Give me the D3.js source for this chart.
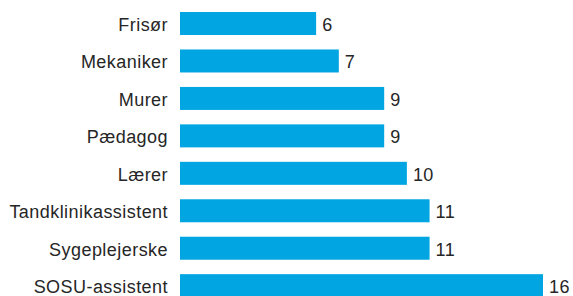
<!DOCTYPE html>
<html>
<head>
<meta charset="utf-8">
<script src="https://cdn.jsdelivr.net/npm/d3@7"></script>
<style>
  body { margin: 0; background: #fff; }
  svg text { font-family: "Liberation Sans", Arial, Helvetica, sans-serif; font-size: 18px; fill: #262626; letter-spacing: 0.45px; }
</style>
</head>
<body>
<svg id="chart" width="573" height="296"></svg>
<script>
// values
const categories = ['Frisør', 'Mekaniker', 'Murer', 'Pædagog', 'Lærer', 'Tandklinikassistent', 'Sygeplejerske', 'SOSU-assistent'];
const values = [6, 7, 9, 9, 10, 11, 11, 16];

const width = 573;
const height = 296;
const x0 = 180;

const svg = d3.select('#chart');

const xScale = d3.scaleLinear()
  .domain([0, 16])
  .range([x0, 543]);

const yScale = d3.scaleBand()
  .domain(categories)
  .range([4.8, 304.4])
  .paddingInner(0.386)
  .paddingOuter(0.193);

const rows = svg.selectAll('g.row')
  .data(categories.map((c, i) => ({ cat: c, val: values[i] })))
  .enter()
  .append('g')
  .attr('class', 'row');

rows.append('rect')
  .attr('x', xScale(0))
  .attr('y', d => yScale(d.cat))
  .attr('width', d => xScale(d.val) - xScale(0))
  .attr('height', yScale.bandwidth())
  .style('fill', '#00a5e1');

rows.append('text')
  .attr('x', 168)
  .attr('y', d => yScale(d.cat) + yScale.bandwidth() / 2 + 7.5)
  .attr('text-anchor', 'end')
  .text(d => d.cat);

rows.append('text')
  .attr('x', d => xScale(d.val) + 6)
  .attr('y', d => yScale(d.cat) + yScale.bandwidth() / 2 + 7.5)
  .text(d => d.val);
</script>
</body>
</html>
